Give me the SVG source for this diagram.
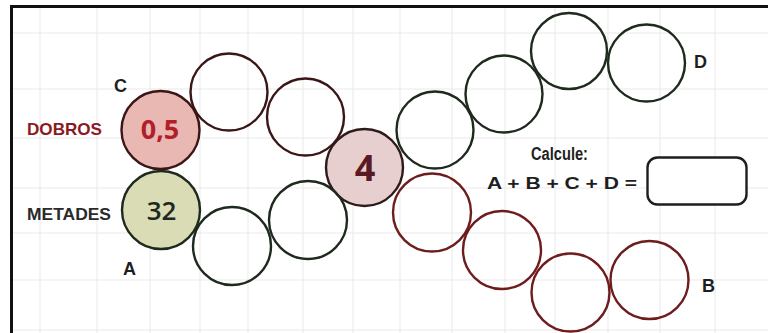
<svg xmlns="http://www.w3.org/2000/svg" width="768" height="333" viewBox="0 0 768 333">
<style>
.grid line{stroke:#e9e9e9;stroke-width:1}
.c{fill:none;stroke-width:2.4}
.g{stroke:#1d2a1d}
.r{stroke:#6e1c1c}
.m{stroke:#3a1616}
.lbl{font-family:"Liberation Sans",Arial,sans-serif;font-weight:bold;font-size:18px;fill:#1e1e1e}
.num{font-family:"Open Sans","Liberation Sans",sans-serif;text-anchor:middle}
</style>
<rect x="0" y="0" width="768" height="333" fill="#ffffff"/>
<g class="grid">
<line x1="40" y1="8" x2="40" y2="333"/><line x1="97" y1="8" x2="97" y2="333"/><line x1="150" y1="8" x2="150" y2="333"/>
<line x1="200" y1="8" x2="200" y2="333"/><line x1="248" y1="8" x2="248" y2="333"/><line x1="303" y1="8" x2="303" y2="333"/>
<line x1="353" y1="8" x2="353" y2="333"/><line x1="400" y1="8" x2="400" y2="333"/><line x1="452" y1="8" x2="452" y2="333"/>
<line x1="505" y1="8" x2="505" y2="333"/><line x1="555" y1="8" x2="555" y2="333"/><line x1="608" y1="8" x2="608" y2="333"/>
<line x1="660" y1="8" x2="660" y2="333"/><line x1="715" y1="8" x2="715" y2="333"/>
<line x1="12" y1="33" x2="768" y2="33"/><line x1="12" y1="89" x2="768" y2="89"/><line x1="12" y1="138" x2="768" y2="138"/>
<line x1="12" y1="188" x2="768" y2="188"/><line x1="12" y1="233" x2="768" y2="233"/><line x1="12" y1="280" x2="768" y2="280"/>
<line x1="12" y1="330" x2="768" y2="330"/>
</g>
<path d="M11.5 333 V6.5 H768" fill="none" stroke="#111" stroke-width="3"/>

<g id="node-c">
<circle cx="160.5" cy="130" r="39" fill="#eab8b3" stroke="#3a1616" stroke-width="2.4"/>
<text class="num" x="160" y="139" font-size="27" font-weight="700" fill="#b0202a">0,5</text>
</g>
<g id="node-c2"><circle class="c m" cx="229" cy="92" r="38.5"/></g>
<g id="node-c3"><circle class="c m" cx="305.5" cy="117" r="38.5"/></g>
<g id="node-4">
<circle cx="364.5" cy="167.5" r="38.5" fill="#e8cfcf" stroke="#2e1a1a" stroke-width="2.4"/>
<text class="num" x="365" y="181" font-size="36" font-weight="700" fill="#5a1a24">4</text>
</g>
<g id="node-d1"><circle class="c g" cx="435" cy="130" r="38.5"/></g>
<g id="node-d2"><circle class="c g" cx="504" cy="94" r="38.5"/></g>
<g id="node-d3"><circle class="c g" cx="569" cy="51" r="38"/></g>
<g id="node-d4"><circle class="c g" cx="646.5" cy="63" r="38.5"/></g>

<g id="node-a">
<circle cx="161" cy="210" r="39" fill="#dadcb5" stroke="#1d2a1d" stroke-width="2.4"/>
<text class="num" x="161.5" y="220" font-size="26" font-weight="600" fill="#1f281f">32</text>
</g>
<g id="node-a2"><circle class="c g" cx="232" cy="246" r="39"/></g>
<g id="node-a3"><circle class="c g" cx="308" cy="220" r="39"/></g>
<g id="node-b1"><circle class="c r" cx="432" cy="212.5" r="39"/></g>
<g id="node-b2"><circle class="c r" cx="502" cy="250" r="39"/></g>
<g id="node-b3"><circle class="c r" cx="570.5" cy="292.5" r="39"/></g>
<g id="node-b4"><circle class="c r" cx="649.5" cy="280" r="39"/></g>

<g id="labels">
<text class="lbl" x="114" y="92">C</text>
<text class="lbl" x="123" y="275">A</text>
<text class="lbl" x="694" y="68">D</text>
<text class="lbl" x="702" y="292">B</text>
<text class="lbl" x="27" y="135" style="fill:#8a1a1f;font-size:17px" textLength="75" lengthAdjust="spacingAndGlyphs">DOBROS</text>
<text class="lbl" x="27" y="219.5" style="fill:#2a2a2a;font-size:17px" textLength="84" lengthAdjust="spacingAndGlyphs">METADES</text>
<text class="lbl" x="531" y="160" style="font-size:18px" textLength="57" lengthAdjust="spacingAndGlyphs">Calcule:</text>
<text class="lbl" x="487" y="189" style="font-size:17px" textLength="150" lengthAdjust="spacingAndGlyphs">A + B + C + D =</text>
</g>
<g id="node-answer"><rect x="647.5" y="157.5" width="99" height="47" rx="10" fill="#fff" stroke="#1e1e1e" stroke-width="2.4"/></g>
</svg>
